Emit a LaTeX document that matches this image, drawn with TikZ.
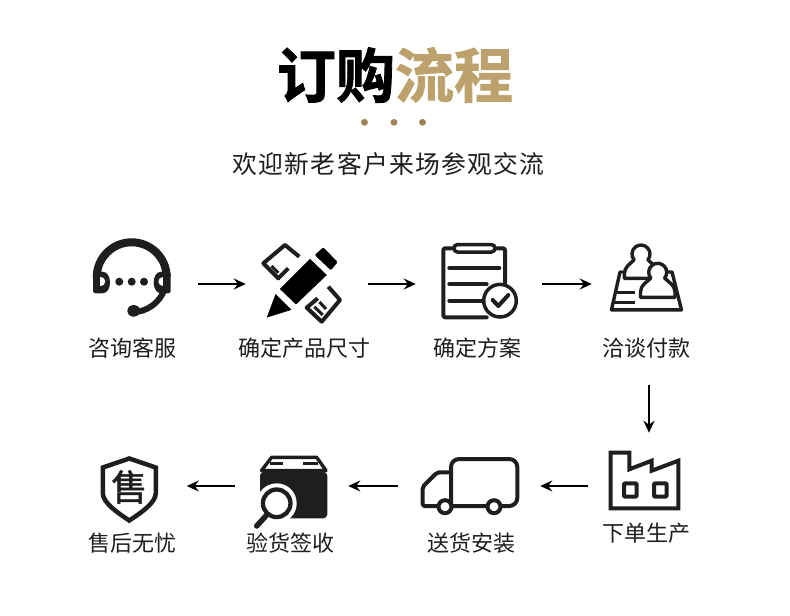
\documentclass[tikz,border=0pt]{standalone}
\usepackage{fontspec}
\usetikzlibrary{arrows.meta}
\setmainfont{Noto Sans CJK SC}
\newfontfamily\titlefont[BoldFont=Noto Sans CJK SC Bold,BoldFeatures={FakeBold=1.4}]{Noto Sans CJK SC}
\newcommand{\pxu}{0.75pt}
\definecolor{ink}{HTML}{1E1E1E}
\definecolor{gold}{HTML}{BDA26E}
\definecolor{dotgold}{HTML}{9E8156}
\tikzset{
  lbl/.style={font=\fontsize{16.5pt}{18pt}\selectfont,text=ink,inner sep=0pt},
  iconbox/.style={inner sep=0pt,minimum width=#1*\pxu,minimum height=60*\pxu},
  flow/.style={draw=black,line width=1.5*\pxu,-{Stealth[length=12*\pxu,width=11*\pxu,inset=4*\pxu]}},
  ic/.style={draw=ink,line width=4*\pxu,line join=round,line cap=round},
  thin ic/.style={draw=ink,line width=3.4*\pxu,line join=round,line cap=round},
  pencilpart/.style={fill=black,draw=white,line width=1.6*\pxu}
}
\begin{document}
\begin{tikzpicture}[x=0.75pt,y=-0.75pt]
\path[use as bounding box,fill=white] (0,0) rectangle (790,615);
% header
\node[inner sep=0pt,font=\titlefont\bfseries\fontsize{44.3pt}{46pt}\selectfont] (title) at (395,75) {\textcolor{black}{订购}\textcolor{gold}{流程}};
\foreach \n/\x in {d1/364.5,d2/394,d3/422.5}
  \fill[dotgold] (\x,122.3) circle[radius=3.4];
\node[inner sep=0pt,text=ink,font=\fontsize{18.6pt}{20pt}\selectfont\addfontfeature{LetterSpace=5}] (sub) at (388.5,164) {欢迎新老客户来场参观交流};

% icon anchor boxes
\node[iconbox=80] (i1) at (132,284) {};
\node[iconbox=80] (i2) at (302,284) {};
\node[iconbox=66] (i3) at (474,284) {};
\node[iconbox=70] (i4) at (649,284) {};
\node[iconbox=78,minimum height=68*\pxu] (i5) at (649,486) {};
\node[iconbox=98] (i6) at (471,486) {};
\node[iconbox=68] (i7) at (294,486) {};
\node[iconbox=58] (i8) at (129.5,486) {};

% 1 headset
\draw[ink,line width=8*\pxu] (96.7,277.3) arc[start angle=180,end angle=360,radius=35];
\draw[ink,line width=6*\pxu] (131.7,277.3)++(12:35) arc[start angle=12,end angle=80,radius=35];
\fill[ink,rounded corners=2.5*\pxu] (93,271.7) -- (93,293.3) -- (100,293.3) .. controls (112.5,293.3) and (112.5,271.7) .. (100,271.7) -- cycle;
\fill[white] (100.3,277.3) -- (100.3,285.7) .. controls (106.5,285.7) and (106.5,277.3) .. (100.3,277.3) -- cycle;
\fill[ink,rounded corners=2.5*\pxu] (170.7,271.7) -- (170.7,293.3) -- (163.7,293.3) .. controls (151.2,293.3) and (151.2,271.7) .. (163.7,271.7) -- cycle;
\fill[white] (163.4,277.3) -- (163.4,285.7) .. controls (157.2,285.7) and (157.2,277.3) .. (163.4,277.3) -- cycle;
\foreach \x in {119.3,131.7,144} \fill[ink] (\x,281.7) circle[radius=4];
\fill[ink,rounded corners=5.5*\pxu] (127.3,305) -- (140,305) -- (140,316.7) -- (127.3,316.7) -- cycle;

% 2 pencil and ruler
\draw[ic,line cap=butt] (299.3,256.7) -- (285,245) -- (263.3,263.3) -- (278.3,278.3) -- (288.3,268.3);
\draw[ic,line width=3*\pxu,line cap=butt] (271.5,266) -- (278.3,272.8);
\draw[ic,line cap=butt] (328.3,286.7) -- (340,300) -- (321.7,321.7) -- (306.7,307.7) -- (317.7,298.3);
\draw[ic,line width=3*\pxu,line cap=butt] (314.3,306.7) -- (322.7,315) (319.5,302) -- (326,309);
\path[pencilpart] (265.2,319) -- (275.2,292.3) -- (293.2,310.3) -- cycle;
\path[pencilpart] (278.5,289) -- (296,305.8) -- (328.2,275) -- (310,257.5) -- cycle;
\path[pencilpart,rounded corners=2.5*\pxu] (313.3,255) -- (331,271.7) -- (339,262) -- (323.3,246) -- cycle;

% 3 clipboard
\draw[ic,rounded corners=2*\pxu] (505,283) -- (505,248.3) -- (443.3,248.3) -- (443.3,317.3) -- (486.7,317.3);
\draw[draw=ink,fill=white,line width=3.5*\pxu,rounded corners=3.6*\pxu] (454,244.5) rectangle (495,252);
\draw[ic] (449.3,268.3) -- (499.3,268.3) (449.3,284.3) -- (486.7,284.3) (449.3,300.7) -- (481.7,300.7);
\draw[draw=ink,fill=white,line width=3.5*\pxu] (500,300.7) circle[radius=16.3];
\draw[ic] (492.7,300) -- (498.3,306) -- (508.3,295);

% 4 people at desk
\draw[thin ic] (622,272) -- (620,272) -- (611.5,309.8) -- (681.5,309.8) -- (672,272) -- (668,272);
\draw[thin ic,line cap=butt] (616.7,292.3) -- (635,292.3) (613.3,302.3) -- (635,302.3);
\draw[thin ic,fill=white] (624.3,278.3) -- (624.3,274) .. controls (624.3,267) and (630,264) .. (634.1,259.8)
  arc[start angle=140,end angle=400,radius=9] .. controls (652,264) and (658,267) .. (658,274) -- (658,278.3) -- cycle;
\draw[thin ic,fill=white] (640.5,297.3) -- (640.5,292) .. controls (640.5,285) and (647,282) .. (650.8,278.1)
  arc[start angle=140,end angle=400,radius=9] .. controls (668.5,282) and (675,285) .. (675,292) -- (675,297.3) -- cycle;

% 5 factory
\draw[ic,line cap=butt,line join=miter] (610.7,452.7) -- (629.3,452.7) -- (629.3,469.3) -- (651.7,460.7) -- (651.7,470.7) -- (678.3,460.7) -- (678.3,508.3) -- (610.7,508.3) -- cycle;
\draw[ic,rounded corners=1*\pxu] (624,483.3) rectangle (636.7,496.7);
\draw[ic,rounded corners=1*\pxu] (654,483.3) rectangle (666.7,496.7);

% 6 truck
\draw[ic,rounded corners=8*\pxu] (451,506) -- (451,459) -- (517.3,459) -- (517.3,506) -- (451,506);
\draw[ic,rounded corners=2*\pxu] (451,472.3) -- (437.3,472.3) -- (422.7,486.7) -- (422.7,506) -- (445,506);
\draw[ic,fill=white] (445,506.7) circle[radius=6.5];
\draw[ic,fill=white] (494,506.7) circle[radius=6.5];

% 7 box with magnifier
\fill[ink,rounded corners=4*\pxu] (260,471.7) rectangle (327.3,518.3);
\draw[thin ic,fill=white] (271.7,457.3) -- (316.7,457.3) -- (326,470.5) -- (261.5,470.5) -- cycle;
\draw[ink,line width=2.5*\pxu] (270,463.7) -- (283,463.7) (303.3,463.7) -- (318,463.7);
\fill[white] (276.7,503.3) circle[radius=20];
\draw[white,line width=9*\pxu,line cap=round] (266.7,515) -- (256.7,526);
\draw[draw=ink,fill=white,line width=4.3*\pxu] (276.7,503.3) circle[radius=13.8];
\draw[ink,line width=5.5*\pxu,line cap=round] (266.7,515) -- (256.7,526);

% 8 shield
\draw[ic,line width=4.5*\pxu,line join=miter] (129.3,458.5) -- (102.8,467.5) -- (102.8,493)
  .. controls (102.8,503) and (118,513) .. (129.3,520.5) .. controls (140.6,513) and (155.8,503) .. (155.8,493)
  -- (155.8,467.5) -- cycle;
\node[inner sep=0pt,text=ink,font=\fontsize{27pt}{28pt}\selectfont\addfontfeature{FakeBold=1.5}] (shieldtext) at (129.3,487) {售};

% labels
\node[lbl] (l1) at (132,348) {咨询客服};
\node[lbl] (l2) at (304,348) {确定产品尺寸};
\node[lbl] (l3) at (477,348) {确定方案};
\node[lbl] (l4) at (646,348) {洽谈付款};
\node[lbl] (l5) at (646,533) {下单生产};
\node[lbl] (l6) at (471,543) {送货安装};
\node[lbl] (l7) at (290,543) {验货签收};
\node[lbl] (l8) at (132,543) {售后无忧};

% connectors
\draw[flow,shorten <=26*\pxu,shorten >=16*\pxu] (i1.east) -- (i2.west);
\draw[flow,shorten <=26*\pxu,shorten >=25*\pxu] (i2.east) -- (i3.west);
\draw[flow,shorten <=35*\pxu,shorten >=22*\pxu] (i3.east) -- (i4.west |- i3.east);
\draw[flow,shorten <=71*\pxu,shorten >=19*\pxu] (i4.south) -- (i5.north);
\draw[flow,shorten <=22*\pxu,shorten >=20*\pxu] (i5.west) -- (i6.east);
\draw[flow,shorten <=24*\pxu,shorten >=20*\pxu] (i6.west) -- (i7.east);
\draw[flow,shorten <=25*\pxu,shorten >=28*\pxu] (i7.west) -- (i8.east);
\end{tikzpicture}
\end{document}
